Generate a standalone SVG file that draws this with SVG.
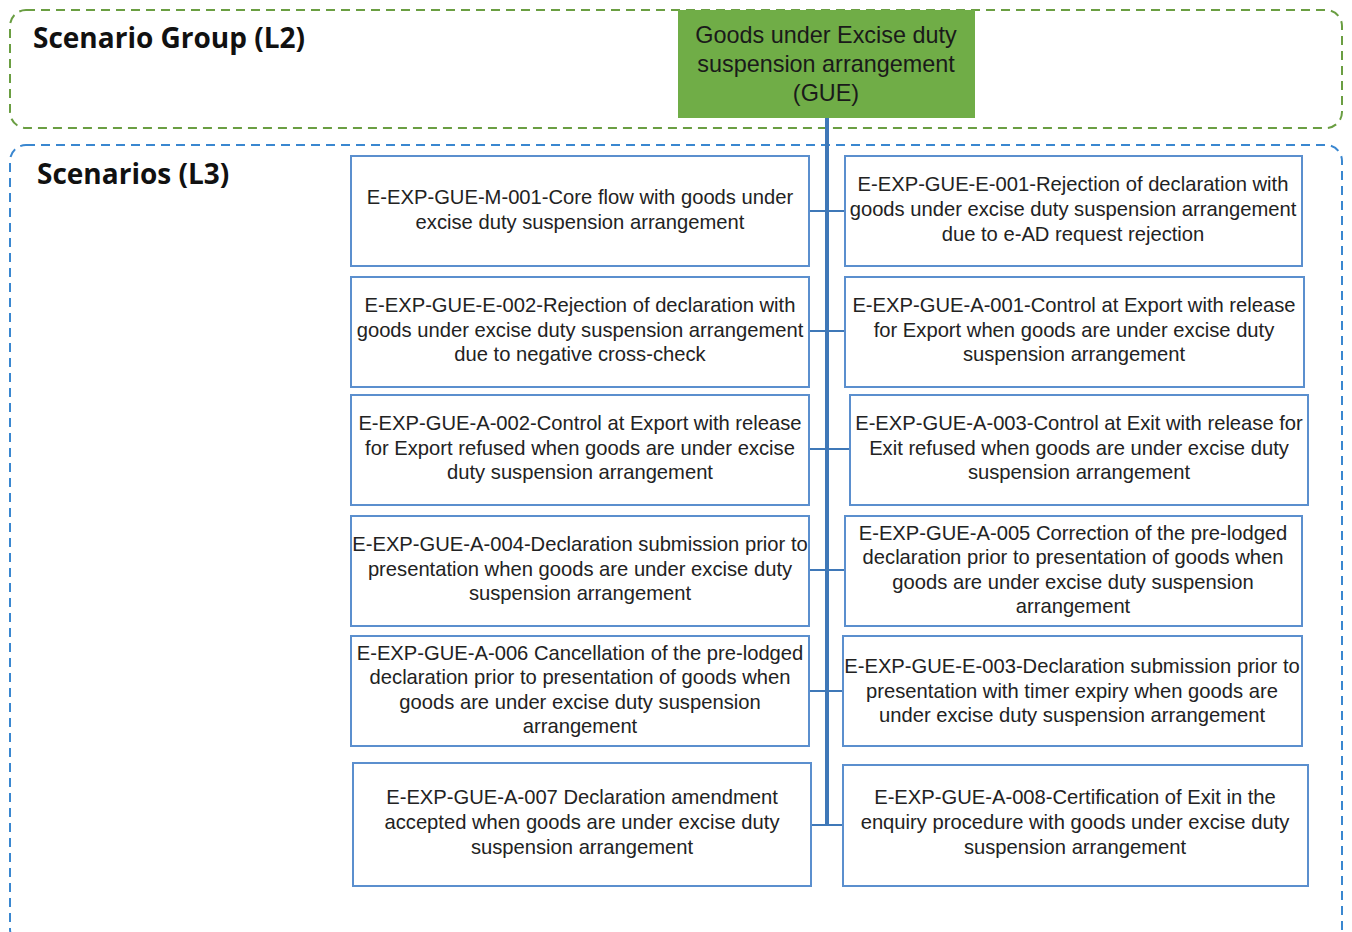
<svg xmlns="http://www.w3.org/2000/svg" width="1352" height="932" viewBox="0 0 1352 932">
<style>
.title{font-family:"Open Sans","Liberation Sans",sans-serif;font-weight:bold;font-size:28px;fill:#111}
.box{fill:#fff;stroke:#5b8fce;stroke-width:2}
.t{font-family:"Liberation Sans",Arial,sans-serif;font-size:20.2px;fill:#222;text-anchor:middle}
.gt{font-family:"Liberation Sans",Arial,sans-serif;font-size:23.4px;fill:#1a1a1a;text-anchor:middle}
.conn{stroke:#3f78b8;fill:none}
</style>
<rect width="1352" height="932" fill="#fff"/>
<g id="group-l2">
<rect x="10" y="10" width="1332" height="118" rx="16" fill="none" stroke="#6a9e42" stroke-width="2" stroke-dasharray="9,6"/>
<text class="title" x="33" y="48">Scenario Group (L2)</text>
</g>
<g id="group-l3">
<rect x="10" y="145" width="1332" height="800" rx="16" fill="none" stroke="#3a87d0" stroke-width="2" stroke-dasharray="9,6"/>
<text class="title" x="37" y="184">Scenarios (L3)</text>
</g>
<g id="connectors">
<line class="conn" x1="827" y1="118" x2="827" y2="826" stroke-width="4"/>
<line class="conn" x1="809" y1="211" x2="845" y2="211" stroke-width="2"/>
<line class="conn" x1="809" y1="331" x2="845" y2="331" stroke-width="2"/>
<line class="conn" x1="809" y1="449" x2="850" y2="449" stroke-width="2"/>
<line class="conn" x1="809" y1="570" x2="845" y2="570" stroke-width="2"/>
<line class="conn" x1="809" y1="691" x2="843" y2="691" stroke-width="2"/>
<line class="conn" x1="811" y1="825" x2="843" y2="825" stroke-width="2"/>
</g>
<g id="gue">
<rect x="678" y="10" width="297" height="108" fill="#70ad47"/>
<text class="gt" x="826" y="43">Goods under Excise duty</text>
<text class="gt" x="826" y="72">suspension arrangement</text>
<text class="gt" x="826" y="101">(GUE)</text>
</g>
<g id="m001">
<rect class="box" x="351" y="156" width="458" height="110"/>
<text class="t" x="580" y="204">E-EXP-GUE-M-001-Core flow with goods under</text>
<text class="t" x="580" y="228.5">excise duty suspension arrangement</text>
</g>
<g id="e001">
<rect class="box" x="845" y="156" width="457" height="110"/>
<text class="t" x="1073" y="191">E-EXP-GUE-E-001-Rejection of declaration with</text>
<text class="t" x="1073" y="216">goods under excise duty suspension arrangement</text>
<text class="t" x="1073" y="241">due to e-AD request rejection</text>
</g>
<g id="e002">
<rect class="box" x="351" y="277" width="458" height="110"/>
<text class="t" x="580" y="312">E-EXP-GUE-E-002-Rejection of declaration with</text>
<text class="t" x="580" y="336.5">goods under excise duty suspension arrangement</text>
<text class="t" x="580" y="361">due to negative cross-check</text>
</g>
<g id="a001">
<rect class="box" x="845" y="277" width="459" height="110"/>
<text class="t" x="1074" y="312">E-EXP-GUE-A-001-Control at Export with release</text>
<text class="t" x="1074" y="336.5">for Export when goods are under excise duty</text>
<text class="t" x="1074" y="361">suspension arrangement</text>
</g>
<g id="a002">
<rect class="box" x="351" y="395" width="458" height="110"/>
<text class="t" x="580" y="430">E-EXP-GUE-A-002-Control at Export with release</text>
<text class="t" x="580" y="454.5">for Export refused when goods are under excise</text>
<text class="t" x="580" y="479">duty suspension arrangement</text>
</g>
<g id="a003">
<rect class="box" x="850" y="395" width="458" height="110"/>
<text class="t" x="1079" y="430">E-EXP-GUE-A-003-Control at Exit with release for</text>
<text class="t" x="1079" y="454.5">Exit refused when goods are under excise duty</text>
<text class="t" x="1079" y="479">suspension arrangement</text>
</g>
<g id="a004">
<rect class="box" x="351" y="516" width="458" height="110"/>
<text class="t" x="580" y="551">E-EXP-GUE-A-004-Declaration submission prior to</text>
<text class="t" x="580" y="575.5">presentation when goods are under excise duty</text>
<text class="t" x="580" y="600">suspension arrangement</text>
</g>
<g id="a005">
<rect class="box" x="845" y="516" width="457" height="110"/>
<text class="t" x="1073" y="540">E-EXP-GUE-A-005 Correction of the pre-lodged</text>
<text class="t" x="1073" y="564.3">declaration prior to presentation of goods when</text>
<text class="t" x="1073" y="588.6">goods are under excise duty suspension</text>
<text class="t" x="1073" y="613">arrangement</text>
</g>
<g id="a006">
<rect class="box" x="351" y="636" width="458" height="110"/>
<text class="t" x="580" y="660">E-EXP-GUE-A-006 Cancellation of the pre-lodged</text>
<text class="t" x="580" y="684.3">declaration prior to presentation of goods when</text>
<text class="t" x="580" y="708.6">goods are under excise duty suspension</text>
<text class="t" x="580" y="733">arrangement</text>
</g>
<g id="e003">
<rect class="box" x="843" y="636" width="459" height="110"/>
<text class="t" x="1072" y="673">E-EXP-GUE-E-003-Declaration submission prior to</text>
<text class="t" x="1072" y="697.5">presentation with timer expiry when goods are</text>
<text class="t" x="1072" y="722">under excise duty suspension arrangement</text>
</g>
<g id="a007">
<rect class="box" x="353" y="763" width="458" height="123"/>
<text class="t" x="582" y="804">E-EXP-GUE-A-007 Declaration amendment</text>
<text class="t" x="582" y="829">accepted when goods are under excise duty</text>
<text class="t" x="582" y="854">suspension arrangement</text>
</g>
<g id="a008">
<rect class="box" x="843" y="765" width="465" height="121"/>
<text class="t" x="1075" y="804">E-EXP-GUE-A-008-Certification of Exit in the</text>
<text class="t" x="1075" y="829">enquiry procedure with goods under excise duty</text>
<text class="t" x="1075" y="854">suspension arrangement</text>
</g>
</svg>
